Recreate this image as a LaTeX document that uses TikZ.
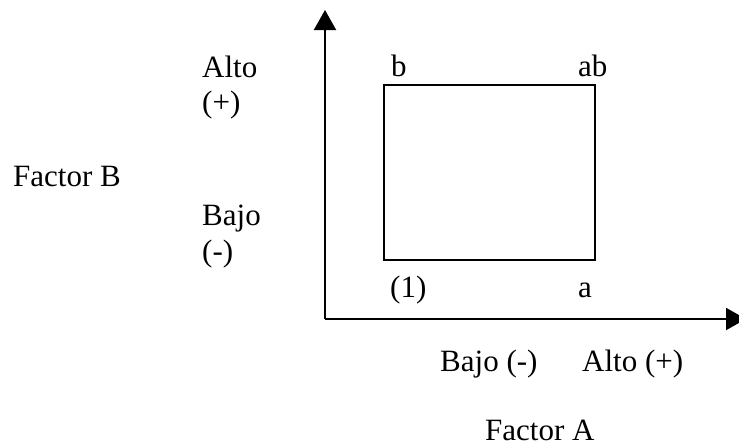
\documentclass[tikz,border=0pt]{standalone}
\usepackage{fontspec}
\setmainfont{Liberation Serif}
\usetikzlibrary{arrows.meta}
\begin{document}
\begin{tikzpicture}[x=1pt,y=-1pt,
  lbl/.style={anchor=base west,inner sep=0pt,font=\fontsize{31}{36}\selectfont},
  axis/.style={line width=2pt,-{Triangle[length=20pt,width=22pt]}},
  box/.style={draw,line width=2pt}]
\useasboundingbox (0,0) rectangle (739,447);
\clip (0,0) rectangle (739,447);
\coordinate (O) at (325,319);
\coordinate (ytip) at (325,10);
\coordinate (xtip) at (746,319);
\draw[axis] (O) -- (ytip);
\draw[axis] (O) -- (xtip);
\node[box,minimum width=211pt,minimum height=175pt,inner sep=0pt,anchor=north west] (sq) at (383,84) {};
\node[lbl] (alto) at (202,77) {Alto};
\node[lbl] (altop) at (202,112) {(+)};
\node[lbl] (fb) at (13,186) {Factor B};
\node[lbl] (bajo) at (202,225) {Bajo};
\node[lbl] (bajom) at (202,261) {(-)};
\node[lbl] (b) at (391,76) {b};
\node[lbl] (ab) at (578,76) {ab};
\node[lbl] (one) at (390,297) {(1)};
\node[lbl] (a) at (578,297) {a};
\node[lbl] (bajoA) at (440,371) {Bajo (-)};
\node[lbl] (altoA) at (582,371) {Alto (+)};
\node[lbl] (fa) at (485,440) {Factor A};
\end{tikzpicture}
\end{document}
